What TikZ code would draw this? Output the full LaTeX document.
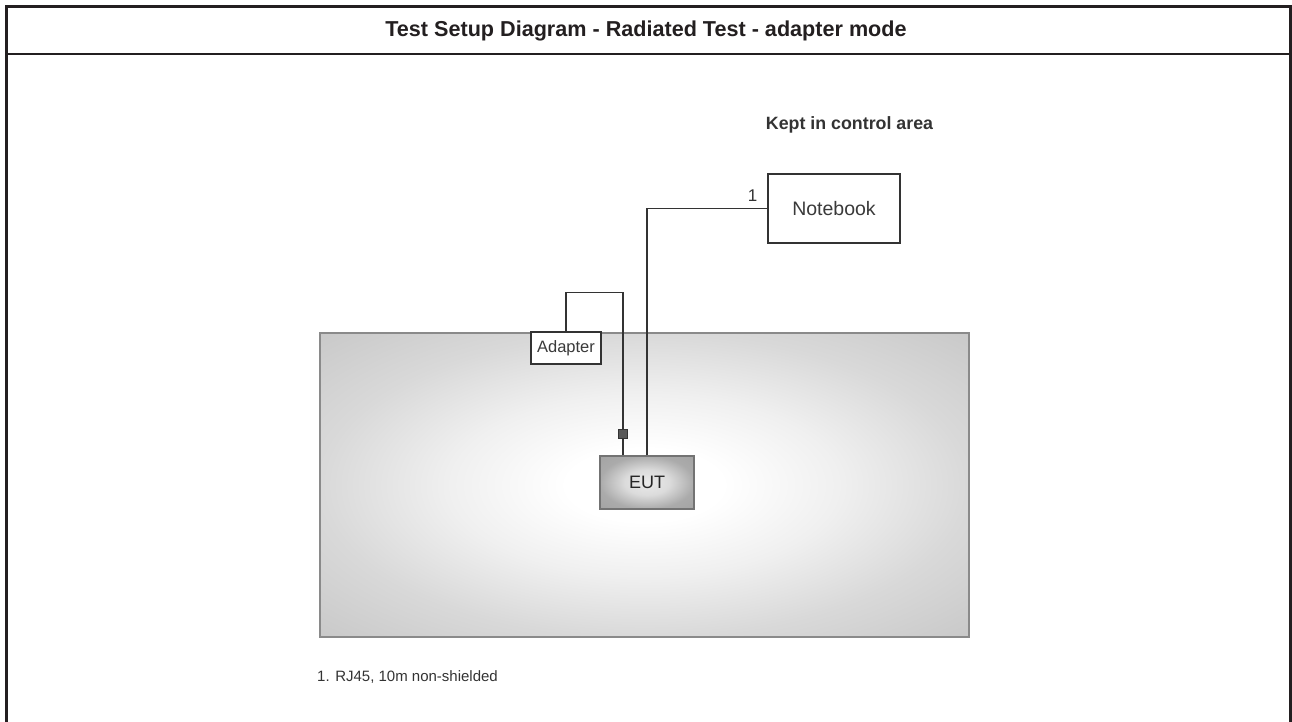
\documentclass[tikz,border=0pt]{standalone}
\usepackage{fontspec}
\setmainfont{Liberation Sans}
\definecolor{frame}{HTML}{231F20}
\definecolor{wirec}{HTML}{333333}
\definecolor{txt}{HTML}{3A3A3A}
\definecolor{roomedge}{HTML}{8A8A8A}
\pgfdeclareradialshading{roomshade}{\pgfpoint{0bp}{0bp}}{%
  color(0bp)=(white); color(6bp)=(white); color(15bp)=(black!6);
  color(25bp)=(black!15); color(35bp)=(black!21); color(50bp)=(black!23)}
\pgfdeclareradialshading{eutshade}{\pgfpoint{0bp}{0bp}}{%
  color(0bp)=(black!8); color(12bp)=(black!14); color(25bp)=(black!33);
  color(50bp)=(black!40)}
\tikzset{
  wire/.style={draw=wirec, line width=1.3pt},
  whitebox/.style={draw=wirec, line width=1.3pt, fill=white, rectangle, inner sep=0pt, text=txt},
  framel/.style={draw=frame},
}
\begin{document}
\begin{tikzpicture}[x=1pt,y=-1pt]
\useasboundingbox (0,0) rectangle (1292,722);
% outer frame
\draw[framel, line width=3.5pt] (6.5,722) -- (6.5,6.5) -- (1290,6.5);
\draw[framel, line width=3pt] (1290,5) -- (1290,722);
\draw[framel, line width=2.5pt] (6.5,54) -- (1290,54);
\node[font=\fontsize{21.6}{24}\selectfont\bfseries, text=frame] (title) at (646,30.5) {Test Setup Diagram - Radiated Test - adapter mode};
% room
\shade[shading=roomshade] (320,333) rectangle (969,637);
\draw[draw=roomedge, line width=1.5pt] (320,333) rectangle (969,637);
\node[font=\fontsize{17.8}{20}\selectfont\bfseries, text=wirec] (kept) at (849.5,125) {Kept in control area};
% notebook
\node[whitebox, minimum width=132pt, minimum height=69pt, font=\fontsize{19.5}{22}\selectfont] (nb) at (834,208.5) {Notebook};
\node[font=\fontsize{17}{20}\selectfont, text=wirec, inner sep=0pt] (one) at (752.5,196) {1};
% EUT
\node[rectangle, draw=black!55, line width=1.5pt, shading=eutshade, minimum width=94pt, minimum height=53pt, inner sep=0pt, font=\fontsize{18}{20}\selectfont, text=black!85] (eut) at (647,482.5) {EUT};
% adapter
\node[whitebox, minimum width=70pt, minimum height=32pt, font=\fontsize{16.5}{18}\selectfont] (ad) at (566,348) {Adapter};
% connector
\node[rectangle, draw=wirec, line width=1pt, fill=black!65, minimum width=9pt, minimum height=9pt, inner sep=0pt] (conn) at (623,433.5) {};
% wires
\draw[wire] (eut.north) |- (nb.west);
\draw[wire] (ad.north) -- ++(0,-39) -| (conn.north);
\draw[wire] (conn.south) -- (conn.south |- eut.north);
% footnote
\node[anchor=west, font=\fontsize{15}{18}\selectfont, text=wirec, inner sep=0pt] (note) at (317,677) {1. RJ45, 10m non-shielded};
\end{tikzpicture}
\end{document}
